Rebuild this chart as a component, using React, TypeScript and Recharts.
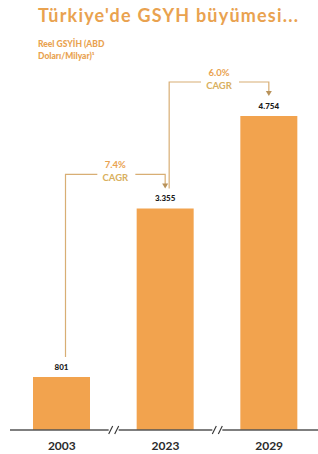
import { Bar, BarChart, LabelList, ReferenceLine, XAxis, YAxis } from "recharts";

const years = ["2003", "2023", "2029"];
const gdp = [801, 3355, 4754];
const gdpLabels = ["801", "3.355", "4.754"];
const cagrLabels = ["7.4%", "6.0%"];

const data = years.map((year, i) => ({ year, gdp: gdp[i], label: gdpLabels[i] }));

const W = 318;
const H = 454;
const MARGIN = { top: 116, right: -3, left: 10, bottom: 0 };
const STEP = (W - MARGIN.left - MARGIN.right) / years.length;

const ORANGE = "#F2A34E";
const TEXT_ORANGE = "#E9A24F";
const LINE = "#D8AE74";
const FONT = "Lato, 'Open Sans', sans-serif";

function ValueLabel(props: any) {
  const { x, y, width, index } = props;
  return (
    <text
      x={x + width / 2}
      y={y - 7}
      textAnchor="middle"
      fontSize={8}
      fontWeight={900}
      fill="#1a1a1a"
      fontFamily={FONT}
    >
      {gdpLabels[index]}
    </text>
  );
}

function Bracket(props: any) {
  const { x, y, width, height, value, index } = props;
  if (index >= cagrLabels.length) return null;
  const k = height / value;
  const base = y + height;
  const cx = x + width / 2;
  const nx = cx + STEP;
  const nextTop = base - gdp[index + 1] * k;
  const lineY = nextTop - 34;
  const leftX = cx + 4;
  const mid = (cx + nx) / 2 + 2;
  const tip = nextTop - 20;
  return (
    <g>
      <polyline
        points={`${leftX},${y - 20} ${leftX},${lineY} ${mid - 18},${lineY}`}
        fill="none"
        stroke={LINE}
        strokeWidth={1.2}
      />
      <polyline
        points={`${mid + 20},${lineY} ${nx},${lineY} ${nx},${tip - 4}`}
        fill="none"
        stroke={LINE}
        strokeWidth={1.2}
      />
      <polygon points={`${nx - 3},${tip - 5} ${nx + 3},${tip - 5} ${nx},${tip}`} fill="#B8925A" />
      <text
        x={mid}
        y={lineY - 6}
        textAnchor="middle"
        fontSize={9.5}
        fontWeight={700}
        fill={TEXT_ORANGE}
        fontFamily={FONT}
      >
        {cagrLabels[index]}
      </text>
      <text
        x={mid}
        y={lineY + 7}
        textAnchor="middle"
        fontSize={9.5}
        fontWeight={700}
        fill="#D9B060"
        fontFamily={FONT}
      >
        CAGR
      </text>
    </g>
  );
}

function YearTick(props: any) {
  const { x, y, payload, index } = props;
  const bx = x + STEP / 2;
  const by = y - 8;
  return (
    <g>
      {index < years.length - 1 && (
        <g>
          <rect x={bx - 5} y={by - 4} width={10} height={8} fill="#fff" />
          <line x1={bx - 5} y1={by + 4} x2={bx - 1} y2={by - 4} stroke="#333" strokeWidth={1.1} />
          <line x1={bx + 1} y1={by + 4} x2={bx + 5} y2={by - 4} stroke="#333" strokeWidth={1.1} />
        </g>
      )}
      <text
        x={x}
        y={y + 12}
        textAnchor="middle"
        fontSize={12}
        fontWeight={700}
        fill="#2b2b2b"
        fontFamily={FONT}
      >
        {payload.value}
      </text>
    </g>
  );
}

export default function App() {
  return (
    <div style={{ position: "absolute", left: 0, top: 0, width: W, height: H, background: "#fff" }}>
      <div
        style={{
          position: "absolute",
          left: 38,
          top: 4,
          fontFamily: FONT,
          fontWeight: 700,
          fontSize: 18,
          letterSpacing: 1.2,
          color: TEXT_ORANGE,
          whiteSpace: "nowrap",
        }}
      >
        Türkiye'de GSYH büyümesi...
      </div>
      <div
        style={{
          position: "absolute",
          left: 38,
          top: 38,
          fontFamily: FONT,
          fontWeight: 900,
          fontSize: 8.5,
          lineHeight: "12px",
          color: TEXT_ORANGE,
        }}
      >
        Reel GSYİH (ABD
        <br />
        Doları/Milyar)¹
      </div>
      <BarChart width={W} height={H} data={data} margin={MARGIN} barSize={57}>
        <XAxis
          dataKey="year"
          axisLine={false}
          tickLine={false}
          tick={<YearTick />}
          height={24}
          interval={0}
        />
        <YAxis hide domain={[0, 4754]} />
        <Bar dataKey="gdp" fill={ORANGE} isAnimationActive={false}>
          <LabelList dataKey="gdp" content={<ValueLabel />} />
          <LabelList dataKey="gdp" content={<Bracket />} />
        </Bar>
        <ReferenceLine y={0} stroke="#555" strokeWidth={1.5} />
      </BarChart>
    </div>
  );
}
